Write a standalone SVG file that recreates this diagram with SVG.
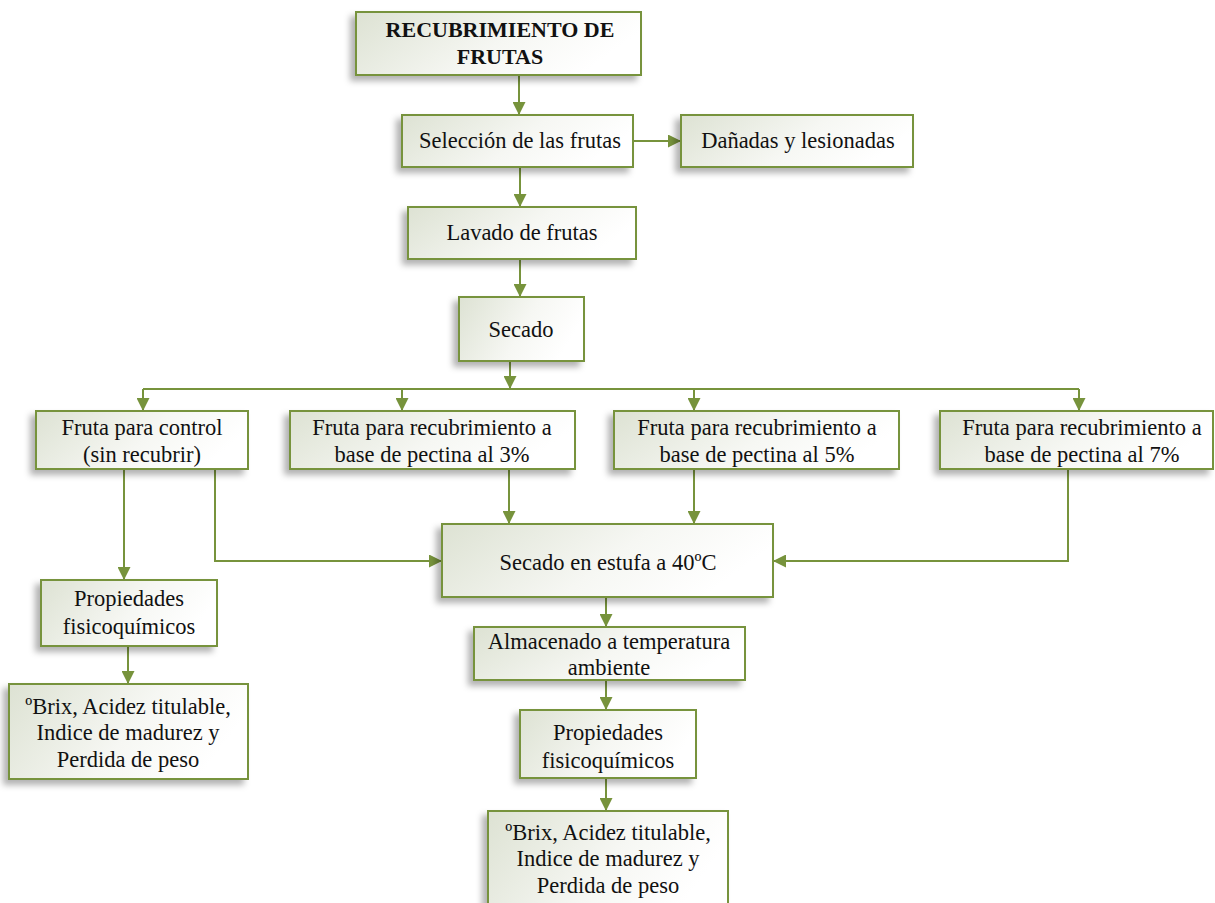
<svg xmlns="http://www.w3.org/2000/svg" width="1215" height="903" viewBox="0 0 1215 903">
<style>
.box{fill:url(#g);stroke:#77933C;stroke-width:2;filter:url(#sh)}
.t{font-family:"Liberation Serif","Times New Roman",serif;font-size:22.5px;fill:#111;text-anchor:middle}
.b{font-weight:bold;font-size:22px}
.c{fill:none;stroke:#77933C;stroke-width:2;marker-end:url(#ah)}
.l{fill:none;stroke:#77933C;stroke-width:2}
</style>
<defs>
<linearGradient id="g" x1="0" y1="0" x2="1" y2="0.3">
<stop offset="0" stop-color="#dde2d3"/>
<stop offset="0.6" stop-color="#f6f7f3"/>
<stop offset="1" stop-color="#ffffff"/>
</linearGradient>
<filter id="sh" x="-20%" y="-20%" width="140%" height="150%">
<feDropShadow dx="-5" dy="5" stdDeviation="3" flood-color="#000" flood-opacity="0.3"/>
</filter>
<marker id="ah" viewBox="0 0 10 10" refX="10" refY="5" markerWidth="6.5" markerHeight="6.5" orient="auto" markerUnits="strokeWidth">
<path d="M0,0 L10,5 L0,10 Z" fill="#77933C"/>
</marker>
</defs>
<rect width="1215" height="903" fill="#fff"/>
<g id="connectors">
<path class="c" d="M519,75 V115"/>
<path class="c" d="M633,141 H681"/>
<path class="c" d="M520,167 V207"/>
<path class="c" d="M520,259 V297"/>
<path class="c" d="M510,361 V389"/>
<path class="l" d="M143,389 H1079"/>
<path class="c" d="M143,389 V411"/>
<path class="c" d="M402,389 V411"/>
<path class="c" d="M694,389 V411"/>
<path class="c" d="M1079,389 V411"/>
<path class="c" d="M124,469 V580"/>
<path class="c" d="M215,469 V561 H442"/>
<path class="c" d="M509,469 V524"/>
<path class="c" d="M694,469 V524"/>
<path class="c" d="M1068,469 V561 H773"/>
<path class="c" d="M128,646 V684"/>
<path class="c" d="M606,597 V627"/>
<path class="c" d="M606,680 V710"/>
<path class="c" d="M606,778 V811"/>
</g>
<g id="n-recubrimiento"><rect class="box" x="356" y="12" width="285" height="63"/>
<text class="t b" x="500" y="37">RECUBRIMIENTO DE</text><text class="t b" x="500" y="64">FRUTAS</text></g>
<g id="n-seleccion"><rect class="box" x="402" y="115" width="231" height="52"/>
<text class="t" x="520" y="148">Selección de las frutas</text></g>
<g id="n-danadas"><rect class="box" x="681" y="115" width="232" height="52"/>
<text class="t" x="798" y="148">Dañadas y lesionadas</text></g>
<g id="n-lavado"><rect class="box" x="408" y="207" width="228" height="52"/>
<text class="t" x="522" y="240">Lavado de frutas</text></g>
<g id="n-secado"><rect class="box" x="459" y="297" width="125" height="64"/>
<text class="t" x="521" y="337">Secado</text></g>
<g id="n-control"><rect class="box" x="36" y="411" width="212" height="58"/>
<text class="t" x="142" y="435">Fruta para control</text><text class="t" x="142" y="462">(sin recubrir)</text></g>
<g id="n-p3"><rect class="box" x="290" y="411" width="285" height="58"/>
<text class="t" x="432" y="435">Fruta para recubrimiento a</text><text class="t" x="432" y="462">base de pectina al 3%</text></g>
<g id="n-p5"><rect class="box" x="614" y="411" width="285" height="58"/>
<text class="t" x="757" y="435">Fruta para recubrimiento a</text><text class="t" x="757" y="462">base de pectina al 5%</text></g>
<g id="n-p7"><rect class="box" x="940" y="411" width="273" height="58"/>
<text class="t" x="1082" y="435">Fruta para recubrimiento a</text><text class="t" x="1082" y="462">base de pectina al 7%</text></g>
<g id="n-estufa"><rect class="box" x="442" y="524" width="331" height="73"/>
<text class="t" x="608" y="570">Secado en estufa a 40ºC</text></g>
<g id="n-prop1"><rect class="box" x="41" y="580" width="176" height="66"/>
<text class="t" x="129" y="606">Propiedades</text><text class="t" x="129" y="634">fisicoquímicos</text></g>
<g id="n-brix1"><rect class="box" x="9" y="684" width="239" height="95"/>
<text class="t" x="128" y="714">ºBrix, Acidez titulable,</text><text class="t" x="128" y="740">Indice de madurez y</text><text class="t" x="128" y="767">Perdida de peso</text></g>
<g id="n-almacenado"><rect class="box" x="474" y="627" width="271" height="53"/>
<text class="t" x="609" y="649">Almacenado a temperatura</text><text class="t" x="609" y="675">ambiente</text></g>
<g id="n-prop2"><rect class="box" x="520" y="710" width="176" height="68"/>
<text class="t" x="608" y="740">Propiedades</text><text class="t" x="608" y="768">fisicoquímicos</text></g>
<g id="n-brix2"><rect class="box" x="488" y="811" width="240" height="100"/>
<text class="t" x="608" y="840">ºBrix, Acidez titulable,</text><text class="t" x="608" y="866">Indice de madurez y</text><text class="t" x="608" y="893">Perdida de peso</text></g>
</svg>
